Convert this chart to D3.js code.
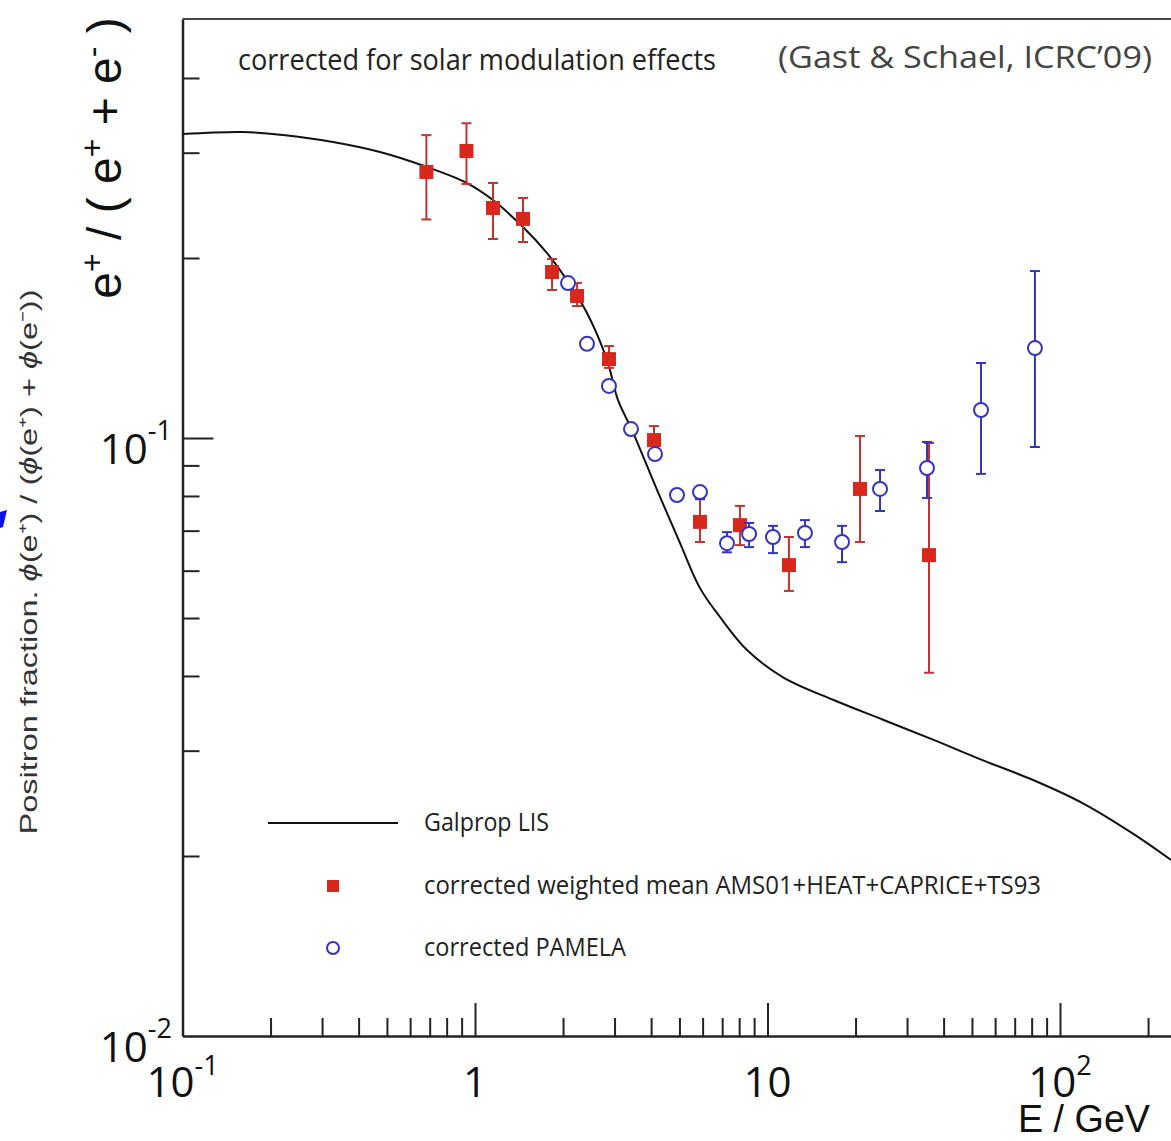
<!DOCTYPE html>
<html>
<head>
<meta charset="utf-8">
<script src="https://cdn.jsdelivr.net/npm/d3@7"></script>
<style>
  body { margin: 0; background: #fff; }
  svg { display: block; }
</style>
</head>
<body>
<script>
// Galprop LIS curve (E / GeV, positron fraction)
const lisE = [0.1004, 0.161, 0.2207, 0.3269, 0.4733, 0.6857, 0.9389, 1.152, 1.459, 1.763, 2.063, 2.415, 2.828,
  3.083, 3.442, 4.19, 5.023, 5.877, 6.88, 8.51, 11.3, 16.75, 24.83, 36.8, 54.6, 80.9, 119.8, 177.6, 239.6];
const lisF = [0.3224, 0.3249, 0.3211, 0.3126, 0.3008, 0.2839, 0.2669, 0.25, 0.2253, 0.2038, 0.1837, 0.1618, 0.135,
  0.1157, 0.1031, 0.0819, 0.0667, 0.0561, 0.0502, 0.0442, 0.0398, 0.0365, 0.0338, 0.0313, 0.0289, 0.0268, 0.0245, 0.0218, 0.0197];

// corrected weighted mean AMS01+HEAT+CAPRICE+TS93
const amsE  = [0.682, 0.935, 1.152, 1.459, 1.834, 2.233, 2.871, 4.093, 5.877, 8.05, 11.84, 20.71, 35.65];
const amsF  = [0.2786, 0.302, 0.2425, 0.2325, 0.1895, 0.1728, 0.1355, 0.0992, 0.0724, 0.0715, 0.0613, 0.0822, 0.0637];
const amsHi = [0.321, 0.336, 0.267, 0.252, 0.1992, 0.1816, 0.1425, 0.1047, 0.0794, 0.077, 0.0683, 0.1008, 0.0981];
const amsLo = [0.232, 0.266, 0.2152, 0.2127, 0.1768, 0.1662, 0.131, 0.0951, 0.067, 0.0662, 0.0555, 0.067, 0.0405];

// corrected PAMELA
const pamE  = [2.08, 2.415, 2.871, 3.414, 4.125, 4.904, 5.877, 7.27, 8.65, 10.44, 13.43, 17.98, 24.25, 35.1, 53.7, 82.1];
const pamF  = [0.1816, 0.1437, 0.1222, 0.1035, 0.094, 0.0803, 0.0812, 0.0667, 0.0691, 0.0683, 0.0694, 0.067, 0.0822, 0.0891, 0.1114, 0.1414];
const pamHi = [0.183, 0.1448, 0.1231, 0.1042, 0.0946, 0.0808, 0.0822, 0.0696, 0.0721, 0.0713, 0.0729, 0.0713, 0.0884, 0.0985, 0.1335, 0.1902];
const pamLo = [0.1802, 0.1426, 0.1213, 0.1028, 0.0934, 0.0798, 0.079, 0.0644, 0.0657, 0.0642, 0.0657, 0.062, 0.0755, 0.0794, 0.0871, 0.0966];

// tick labels: [value, base, exponent]
const xMajor = [[0.1, "10", "-1"], [1, "1", ""], [10, "10", ""], [100, "10", "2"]];
const yMajor = [[0.01, "10", "-2"], [0.1, "10", "-1"]];

const legendItems = ["Galprop LIS", "corrected weighted mean AMS01+HEAT+CAPRICE+TS93", "corrected PAMELA"];

const W = 1171, H = 1141;
const red = "#d8281e", redBar = "#c0352f", blue = "#3434c4";

const svg = d3.select("body").append("svg").attr("width", W).attr("height", H);

const x = d3.scaleLog().domain([0.1, 240]).range([182.5, 182.5 + 292.5 * Math.log10(2400)]);
const y = d3.scaleLog().domain([0.01, 0.502]).range([1036, 19]);

// minor ticks from the scale itself
const xMinor = x.ticks().filter(v => !xMajor.some(m => Math.abs(m[0] - v) < 1e-9));
const yMinor = y.ticks().filter(v => v < 0.45 && !yMajor.some(m => Math.abs(m[0] - v) < 1e-9));

// x axis (ticks pointing up)
const gx = svg.append("g").attr("transform", "translate(0,1036)");
gx.call(d3.axisBottom(x).tickValues(xMinor).tickSize(-18).tickSizeOuter(0).tickFormat(""));
gx.append("g").call(d3.axisBottom(x).tickValues(xMajor.map(d => d[0])).tickSize(-33).tickSizeOuter(0).tickFormat(""))
  .select(".domain").remove();
gx.selectAll("line").attr("stroke", "#222").attr("stroke-width", 2);
gx.selectAll(".domain").attr("stroke", "#222").attr("stroke-width", 2.5);

// y axis (ticks pointing right)
const gy = svg.append("g").attr("transform", "translate(182.5,0)");
gy.call(d3.axisLeft(y).tickValues(yMinor).tickSize(-17).tickSizeOuter(0).tickFormat(""));
gy.append("g").call(d3.axisLeft(y).tickValues([0.1]).tickSize(-31).tickSizeOuter(0).tickFormat(""))
  .select(".domain").remove();
gy.selectAll("line").attr("stroke", "#222").attr("stroke-width", 2);
gy.selectAll(".domain").attr("stroke", "#222").attr("stroke-width", 2.5);

// top frame
svg.append("line").attr("x1", x.range()[0]).attr("x2", W).attr("y1", 19).attr("y2", 19)
  .attr("stroke", "#444").attr("stroke-width", 2);

const tickFont = "'Open Sans', 'Noto Sans', sans-serif";

// x tick labels
xMajor.forEach(([v, base, exp]) => {
  const t = svg.append("text").attr("x", x(v)).attr("y", 1097).attr("text-anchor", "middle")
    .style("font-family", tickFont).style("font-size", "42px").attr("fill", "#111");
  t.append("tspan").text(base);
  if (exp) t.append("tspan").attr("dy", -22).style("font-size", "27px").text(exp);
});

// y tick labels
yMajor.forEach(([v, base, exp]) => {
  const t = svg.append("text").attr("x", 172).attr("y", y(v) + 26).attr("text-anchor", "end")
    .style("font-family", tickFont).style("font-size", "42px").attr("fill", "#111");
  t.append("tspan").text(base);
  t.append("tspan").attr("dy", -24).style("font-size", "27px").text(exp);
});

// axis titles
svg.append("text").attr("x", 1084).attr("y", 1132).attr("text-anchor", "middle")
  .attr("textLength", 132).attr("lengthAdjust", "spacingAndGlyphs")
  .style("font-family", "'Liberation Sans', Arial, sans-serif").style("font-size", "38px").attr("fill", "#111").text("E / GeV");

const yt = svg.append("text").attr("transform", "translate(121,158) rotate(-90)").attr("text-anchor", "middle")
  .style("font-family", "'Liberation Sans', Arial, sans-serif").style("font-size", "48px").attr("fill", "#111");
[["e", 0], ["+", 1], [" / ( ", 0], ["e", 0], ["+", 1], [" + ", 0], ["e", 0], ["-", 1], [" )", 0]].forEach(([s, sup]) => {
  const ts = yt.append("tspan").text(s);
  if (sup) ts.attr("baseline-shift", "55%").style("font-size", "32px");
});

const yt2 = svg.append("text").attr("transform", "translate(37,562) rotate(-90)").attr("text-anchor", "middle")
  .style("font-family", "'Liberation Sans', Arial, sans-serif").style("font-size", "24px").attr("fill", "#333")
  .attr("textLength", 545).attr("lengthAdjust", "spacingAndGlyphs");
yt2.append("tspan").text("Positron fraction. ");
yt2.append("tspan").style("font-style", "italic").text("ϕ");
yt2.append("tspan").text("(e⁺) / (");
yt2.append("tspan").style("font-style", "italic").text("ϕ");
yt2.append("tspan").text("(e⁺) + ");
yt2.append("tspan").style("font-style", "italic").text("ϕ");
yt2.append("tspan").text("(e⁻))");

// small blue stroke at left edge
svg.append("path").attr("d", "M0,512 L7,510 L3,527 L0,528 Z").attr("fill", "#1010ee");

// annotations
svg.append("text").attr("x", 238).attr("y", 70).attr("textLength", 478).attr("lengthAdjust", "spacingAndGlyphs")
  .style("font-family", "'Open Sans', sans-serif").style("font-size", "29px").attr("fill", "#222")
  .text("corrected for solar modulation effects");
svg.append("text").attr("x", 778).attr("y", 68).attr("textLength", 374).attr("lengthAdjust", "spacingAndGlyphs")
  .style("font-family", "'Open Sans', sans-serif").style("font-size", "31px").attr("fill", "#444")
  .text("(Gast & Schael, ICRC’09)");

// Galprop curve
const line = d3.line().x(d => x(d[0])).y(d => y(d[1])).curve(d3.curveCatmullRom.alpha(0.5));
svg.append("path").datum(lisE.map((e, i) => [e, lisF[i]]))
  .attr("d", line).attr("fill", "none").attr("stroke", "#111").attr("stroke-width", 2);

// error bars helper
function errorBars(E, lo, hi, color) {
  const g = svg.append("g").attr("stroke", color).attr("stroke-width", 2);
  E.forEach((e, i) => {
    if (y(lo[i]) - y(hi[i]) < 6) return;
    g.append("line").attr("x1", x(e)).attr("x2", x(e)).attr("y1", y(hi[i])).attr("y2", y(lo[i]));
    [hi[i], lo[i]].forEach(v => g.append("line").attr("x1", x(e) - 5).attr("x2", x(e) + 5).attr("y1", y(v)).attr("y2", y(v)));
  });
}

errorBars(amsE, amsLo, amsHi, redBar);
svg.append("g").selectAll("rect").data(amsE).join("rect")
  .attr("x", d => x(d) - 7).attr("y", (d, i) => y(amsF[i]) - 7)
  .attr("width", 14).attr("height", 14).attr("fill", red);

errorBars(pamE, pamLo, pamHi, blue);
svg.append("g").selectAll("circle").data(pamE).join("circle")
  .attr("cx", d => x(d)).attr("cy", (d, i) => y(pamF[i])).attr("r", 7)
  .attr("fill", "#fff").attr("stroke", blue).attr("stroke-width", 2);

// legend
const legFont = "'Open Sans', sans-serif";
const lg = svg.append("g");
lg.append("line").attr("x1", 268).attr("x2", 398).attr("y1", 823).attr("y2", 823).attr("stroke", "#111").attr("stroke-width", 2);
lg.append("rect").attr("x", 327).attr("y", 880).attr("width", 12).attr("height", 12).attr("fill", red);
lg.append("circle").attr("cx", 333).attr("cy", 948).attr("r", 6).attr("fill", "#fff").attr("stroke", blue).attr("stroke-width", 2);
const legLen = [125, 617, 202];
const legY = [831, 894, 956];
legendItems.forEach((s, i) => {
  lg.append("text").attr("x", 424).attr("y", legY[i]).attr("textLength", legLen[i]).attr("lengthAdjust", "spacingAndGlyphs")
    .style("font-family", legFont).style("font-size", "26px").attr("fill", "#222").text(s);
});
</script>
</body>
</html>
